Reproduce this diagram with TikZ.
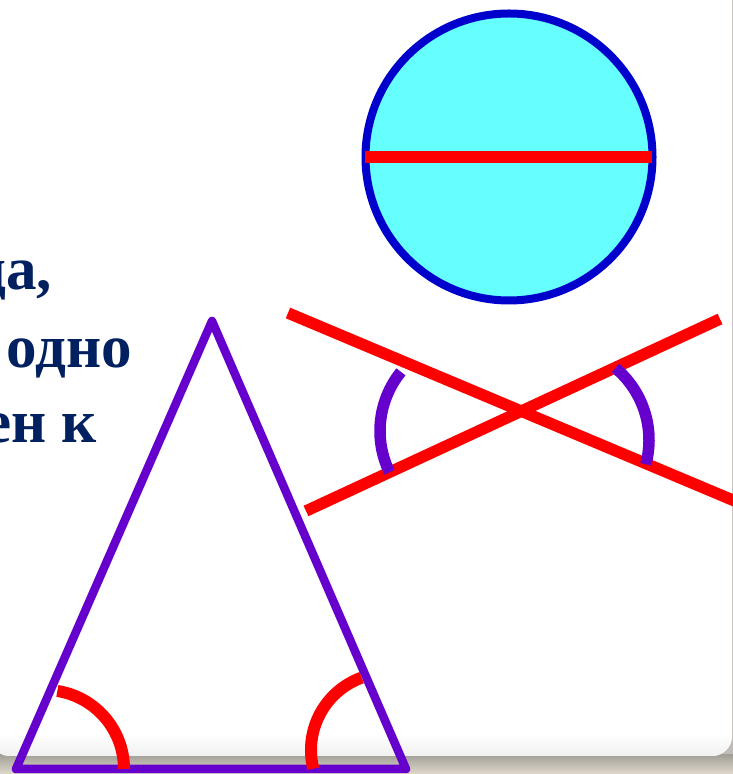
\documentclass[tikz,border=0pt]{standalone}
\usepackage{fontspec}
\setmainfont{Liberation Serif}
\definecolor{navy}{RGB}{0,32,96}
\definecolor{violetline}{RGB}{102,0,204}
\definecolor{redline}{RGB}{255,0,0}
\definecolor{circfill}{RGB}{102,255,255}
\definecolor{circedge}{RGB}{0,0,204}
\definecolor{shadowtop}{RGB}{164,160,152}
\definecolor{shadowbot}{RGB}{222,216,204}
\begin{document}
\begin{tikzpicture}[x=1pt,y=1pt,
  bigtext/.style={font=\fontsize{61}{72}\selectfont\bfseries, text=navy, inner sep=0pt, anchor=base east},
  trianglestyle/.style={draw=violetline, line width=8.5pt, line join=round},
  redarc/.style={draw=redline, line width=12pt},
  violetarc/.style={draw=violetline, line width=11.5pt},
  redray/.style={draw=redline, line width=11.5pt}]
\useasboundingbox (0,0) rectangle (733,774);
\clip (0,0) rectangle (733,774);
% background shadow
\fill[shadowtop!70!white] (0,0) rectangle (733,774);
\shade[top color=shadowtop, bottom color=shadowbot] (0,0) rectangle (733,19);
% card
\fill[white] (-10,784) -- (732,784) [rounded corners=20pt] -- (732,18) -- (-10,18) [sharp corners] -- cycle;
\begin{scope}
\clip (-10,784) -- (732,784) [rounded corners=20pt] -- (732,18) -- (-10,18) [sharp corners] -- cycle;
\shade[top color=white, bottom color=black!6] (-10,40) rectangle (732,17);
\end{scope}
% text
\node[bigtext] (txta) at (52,484) {да,};
\node[bigtext] (txtb) at (132,406) {одно};
\node[bigtext] (txtc) at (97,331) {ен к};
% circle with diameter
\draw[fill=circfill, draw=circedge, line width=8pt] (509,617) circle (143.5);
\draw[draw=redline, line width=12pt] (365,617) -- (652,617);
% crossing lines
\draw[redray] (288,461) -- (742,270);
\draw[redray] (306,263) -- (720,455);
\draw[violetarc] (474,343) ++(141:94) arc (141:206:94);
\draw[violetarc] (555,334) ++(50:94) arc (50:-15:94);
% triangle
\draw[trianglestyle] (16,5) -- (212,453) -- (406,5) -- cycle;
\draw[redarc] (45,5) ++(81:79) arc (81:0:79);
\draw[redarc] (388,24) ++(110:77) arc (110:194:77);
\end{tikzpicture}
\end{document}
